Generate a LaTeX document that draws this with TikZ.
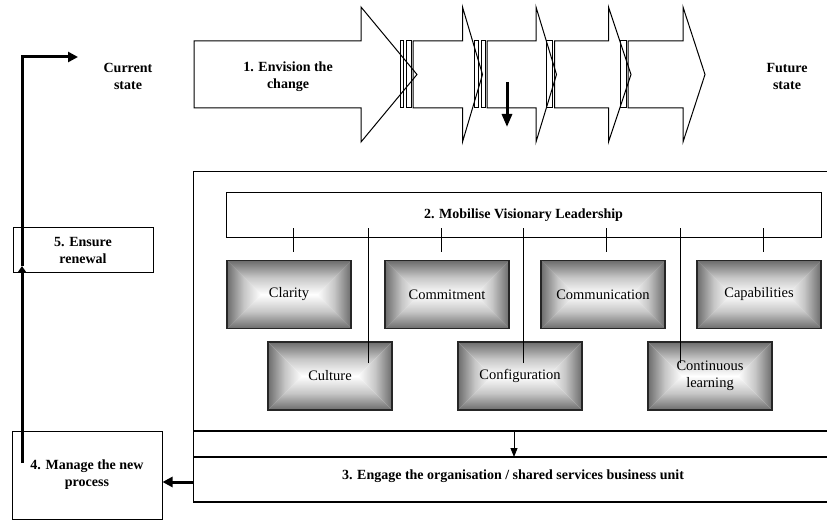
\documentclass[tikz,border=0pt]{standalone}
\usepackage{fontspec}
\setmainfont{Liberation Serif}
\usepackage{tikz}
\usetikzlibrary{arrows.meta, positioning, calc}
\definecolor{edgegray}{RGB}{108,108,108}
\tikzset{
    heading/.style = {align=center, font=\bfseries\fontsize{14}{17}\selectfont},
    phase/.style = {rectangle, draw, line width=1pt, align=center,
                    font=\bfseries\fontsize{14}{17}\selectfont},
    factor/.style = {rectangle, draw=black!85, line width=1.3pt, inner sep=0pt,
        minimum width=124pt, minimum height=68pt, align=center,
        font=\fontsize{14.5}{17}\selectfont,
        path picture={
            \path (path picture bounding box.north west) coordinate (nw)
                  (path picture bounding box.north east) coordinate (ne)
                  (path picture bounding box.south west) coordinate (sw)
                  (path picture bounding box.south east) coordinate (se)
                  ([xshift=-28pt]path picture bounding box.center) coordinate (cl)
                  ([xshift=28pt]path picture bounding box.center) coordinate (cr);
            \shade[top color=edgegray, bottom color=white, middle color=black!22] (nw) -- (ne) -- (cr) -- (cl) -- cycle;
            \shade[top color=white, bottom color=edgegray, middle color=black!22] (sw) -- (se) -- (cr) -- (cl) -- cycle;
            \shade[left color=edgegray, right color=white, middle color=black!22] (nw) -- (cl) -- (sw) -- cycle;
            \shade[left color=white, right color=edgegray, middle color=black!22] (ne) -- (cr) -- (se) -- cycle;
        }},
    block/.style = {draw, line width=1pt, line join=miter},
    frame/.style = {draw, line width=1.1pt},
    link/.style = {draw, line width=0.9pt},
    fat/.style = {line width=3pt, -{Triangle[length=10pt, width=10pt]}}
    }

\begin{document}
\begin{tikzpicture}[x=1pt, y=-1pt]
    \useasboundingbox (0,0) rectangle (827,521);

    % the five phase arrows
    \draw[block] (194,41) -- (361,41) -- (361,7) -- (417,74.5) -- (361,142) -- (361,108) -- (194,108) -- cycle;
    \draw[block] (400,41) rectangle (403,108) (406.5,41) rectangle (411,108);
    \draw[block] (413,41) -- (462.5,41) -- (462.5,7) -- (482.5,74.5) -- (462.5,142) -- (462.5,108) -- (413,108) -- cycle;
    \draw[block] (474.5,41) rectangle (478.5,108) (481.5,41) rectangle (485,108);
    \draw[block] (487,41) -- (536,41) -- (536,7) -- (556.5,74.5) -- (536,142) -- (536,108) -- (487,108) -- cycle;
    \draw[block] (546,41) rectangle (552,108);
    \draw[block] (554.5,41) -- (608.5,41) -- (608.5,7) -- (631,74.5) -- (608.5,142) -- (608.5,108) -- (554.5,108) -- cycle;
    \draw[block] (620,41) rectangle (626,108);
    \draw[block] (628,41) -- (683,41) -- (683,7) -- (705,74.5) -- (683,142) -- (683,108) -- (628,108) -- cycle;

    \node[heading] (1) at (128,76.5) {Current\\state};
    \node[heading] (2) at (288,76.5) {1. Envision the\\change};
    \node[heading] (3) at (787,76.5) {Future\\state};

    \coordinate (a) at (507,82);
    \coordinate (b) at (507,127);
    \draw[fat, -{Triangle[length=13pt, width=10pt]}] (a) -- (b);

    % leadership frame
    \draw[frame] (827,171.5) -- (193.5,171.5) -- (193.5,502) -- (827,502);
    \draw[frame] (193.5,431) -- (827,431);
    \draw[frame] (193.5,457) -- (827,457);

    \node[phase, minimum width=595pt, minimum height=45pt] (5) at (523.5,215.5) {2. Mobilise Visionary Leadership};

    \node[factor] (6) at (289,294.5) {Clarity};
    \node[factor] (7) at (447,294.5) {Commitment};
    \node[factor] (8) at (603,294.5) {Communication};
    \node[factor] (9) at (759,294.5) {Capabilities};
    \node[factor] (10) at (330,376) {Culture};
    \node[factor] (11) at (520,376) {Configuration};
    \node[factor] (12) at (710,376) {Continuous\\learning};

    \draw[link] ([xshift=4pt]6.north) ++(0,-8) -- ++(0,-24);
    \draw[link] ([xshift=-6pt]7.north) ++(0,-8) -- ++(0,-24);
    \draw[link] ([xshift=3pt]8.north) ++(0,-8) -- ++(0,-24);
    \draw[link] ([xshift=4pt]9.north) ++(0,-8) -- ++(0,-24);

    \draw[link] ([xshift=38pt,yshift=13pt]10.center) -- ++(0,-135);
    \draw[link] ([xshift=3pt,yshift=13pt]11.center) -- ++(0,-135);
    \draw[link] ([xshift=-30pt,yshift=13pt]12.center) -- ++(0,-135);

    \coordinate (c) at (514,431);
    \draw[link, -{Triangle[length=9pt, width=7pt]}] (c) -- (c |- 0,457);

    \node[heading] (15) at (513,476) {3. Engage the organisation / shared services business unit};

    % renewal loop
    \node[phase, minimum width=150pt, minimum height=88pt] (14) at (87,475) {4. Manage the new\\process};
    \node[phase, minimum width=140pt, minimum height=45pt] (13) at (83,250.5) {5. Ensure\\renewal};

    \coordinate (e) at (193.5,482);
    \draw[fat] (e) -- (e -| 14.east);

    \coordinate (p) at (22,463);
    \coordinate (q) at (22,266);
    \coordinate (r) at (78,57);
    \draw[fat, -{Triangle[length=7pt, width=9pt]}] (p) -- (q);
    \draw[fat, line join=miter] (q) |- (r);
\end{tikzpicture}
\end{document}
